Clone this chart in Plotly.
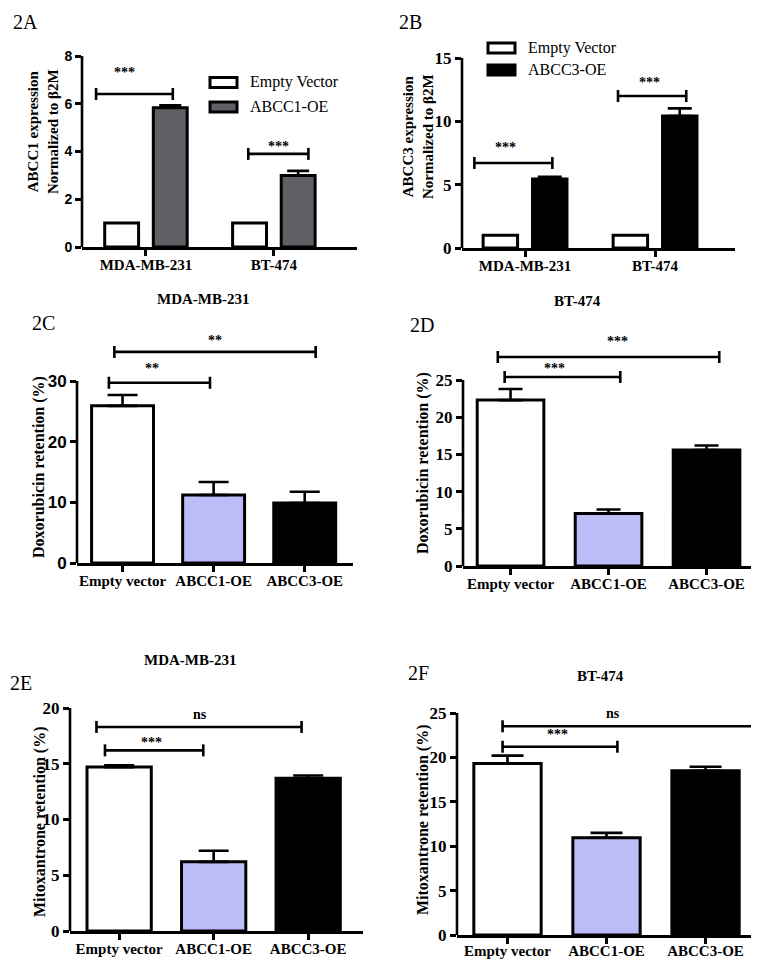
import plotly.graph_objects as go

# The page places the figure 8px from the top-left corner, so the figure is
# sized to the remaining window and all layout pixel positions are offset.
OX, OY = 8, 8
W, H = 759 - OX, 960 - OY
SERIF = "Liberation Serif, Times New Roman, serif"
SANS = "Liberation Sans, Arial, sans-serif"

def px(x):
    return (x - OX) / W

def py(y):
    return 1 - (y - OY) / H

# ---------------- data ----------------
expr_groups = ["MDA-MB-231", "BT-474"]
a_empty = [1.0, 1.0]
a_oe = [5.83, 2.99]
a_oe_err = [0.1, 0.2]
b_empty = [1.0, 1.0]
b_oe = [5.45, 10.42]
b_oe_err = [0.18, 0.6]

ret_groups = ["Empty vector", "ABCC1-OE", "ABCC3-OE"]
c_vals = [25.9, 11.2, 9.9]
c_err = [1.8, 2.15, 1.85]
d_vals = [22.3, 7.05, 15.6]
d_err = [1.5, 0.55, 0.6]
e_vals = [14.7, 6.2, 13.7]
e_err = [0.15, 1.0, 0.25]
f_vals = [19.3, 10.95, 18.5]
f_err = [0.9, 0.55, 0.45]

ret_colors = ["#ffffff", "#bcbcf8", "#000000"]

# significance brackets: (x_start, x_end, y, label, label_x, label_y)
a_sig = [(-0.39, 0.21, 6.41, "***", -0.17, 7.29), (0.8, 1.27, 3.9, "***", 1.04, 4.19)]
b_sig = [(-0.39, 0.21, 6.71, "***", -0.15, 7.9), (0.715, 1.24, 12.0, "***", 0.96, 13.1)]
c_sig = [(-0.15, 0.96, 29.7, "**", 0.32, 32.1), (-0.09, 2.12, 34.8, "**", 1.02, 36.6)]
d_sig = [(-0.06, 1.12, 25.4, "***", 0.45, 26.5), (-0.13, 2.13, 28.1, "***", 1.09, 30.2)]
e_sig = [(-0.15, 0.89, 16.2, "***", 0.34, 16.9), (-0.24, 1.93, 18.3, "ns", 0.86, 19.4)]
f_sig = [(-0.05, 1.11, 21.2, "***", 0.51, 22.6), (-0.05, 2.5, 23.5, "ns", 1.07, 24.9)]

# ---------------- layout of panels (window pixels) ----------------
panels = [
    dict(n=1, xpx=(82, 357), y0=247, yt=56, ymax=8, ext=8, xr=(-0.5, 1.65), dtick=2,
         tf=SANS, tfs=14, sig=a_sig, cap=11, so=-4),
    dict(n=2, xpx=(462, 735), y0=248, yt=58, ymax=15, ext=15, xr=(-0.485, 1.615), dtick=5,
         tf=SERIF, tfs=17, sig=b_sig, cap=12, so=-4),
    dict(n=3, xpx=(77, 353), y0=563, yt=381, ymax=30, ext=40, xr=(-0.5, 2.53), dtick=10,
         tf=SANS, tfs=17, sig=c_sig, cap=15, so=-4),
    dict(n=4, xpx=(463, 757), y0=566, yt=380, ymax=25, ext=31, xr=(-0.485, 2.515), dtick=5,
         tf=SERIF, tfs=17, sig=d_sig, cap=12, so=-4),
    dict(n=5, xpx=(70, 363), y0=931, yt=708, ymax=20, ext=20, xr=(-0.52, 2.58), dtick=5,
         tf=SERIF, tfs=17, sig=e_sig, cap=15, so=-4),
    dict(n=6, xpx=(457, 758), y0=935, yt=713, ymax=25, ext=25, xr=(-0.51, 2.53), dtick=5,
         tf=SERIF, tfs=17, sig=f_sig, cap=16, so=-6),
]

fig = go.Figure()
LW = 2.6
shapes = []
annotations = []

def axname(n, a):
    return a if n == 1 else f"{a}{n}"

def bar_err(err, cap):
    return dict(type="data", array=err, arrayminus=[0] * len(err), symmetric=False,
                color="black", thickness=LW, width=cap)

# grouped expression panels
off, bw = 0.19, 0.265
for p, emp, oe, oe_err, oe_color, oe_name in [
    (panels[0], a_empty, a_oe, a_oe_err, "#5f5f66", "ABCC1-OE"),
    (panels[1], b_empty, b_oe, b_oe_err, "#000000", "ABCC3-OE"),
]:
    xa, ya = axname(p["n"], "x"), axname(p["n"], "y")
    gx = list(range(len(expr_groups)))
    fig.add_trace(go.Bar(x=[g - off for g in gx], y=emp, width=bw, name="Empty Vector",
                         marker=dict(color="white", line=dict(color="black", width=3)),
                         xaxis=xa, yaxis=ya, showlegend=False))
    fig.add_trace(go.Bar(x=[g + off for g in gx], y=oe, width=bw, name=oe_name,
                         marker=dict(color=oe_color, line=dict(color="black", width=3)),
                         error_y=bar_err(oe_err, p["cap"]),
                         xaxis=xa, yaxis=ya, showlegend=False))

# retention panels
for p, vals, err in [(panels[2], c_vals, c_err), (panels[3], d_vals, d_err),
                     (panels[4], e_vals, e_err), (panels[5], f_vals, f_err)]:
    xa, ya = axname(p["n"], "x"), axname(p["n"], "y")
    fig.add_trace(go.Bar(x=list(range(len(ret_groups))), y=vals, width=0.68,
                         marker=dict(color=ret_colors, line=dict(color="black", width=3)),
                         error_y=bar_err(err, p["cap"]),
                         xaxis=xa, yaxis=ya, showlegend=False))

layout_axes = {}
for p in panels:
    n = p["n"]
    ppu = (p["y0"] - p["yt"]) / p["ymax"]
    top_px = p["y0"] - p["ext"] * ppu
    xd = [px(p["xpx"][0]), min(1.0, px(p["xpx"][1]))]
    yd = [py(p["y0"]), py(top_px)]
    cats = expr_groups if n <= 2 else ret_groups
    xkey = "xaxis" if n == 1 else f"xaxis{n}"
    ykey = "yaxis" if n == 1 else f"yaxis{n}"
    layout_axes[xkey] = dict(
        domain=xd, range=list(p["xr"]), anchor=axname(n, "y"), automargin=False,
        showline=True, linecolor="black", linewidth=LW, showgrid=False, zeroline=False,
        ticks="outside", ticklen=6, tickwidth=LW, tickcolor="black",
        tickvals=list(range(len(cats))), ticktext=cats, ticklabelstandoff=p["so"],
        tickfont=dict(family=SERIF, size=15, color="black", weight=700),
        fixedrange=True,
    )
    layout_axes[ykey] = dict(
        domain=yd, range=[0, p["ext"]], anchor=axname(n, "x"), automargin=False,
        showline=False, showgrid=False, zeroline=False,
        ticks="outside", ticklen=6, tickwidth=LW, tickcolor="black",
        tickmode="array",
        tickvals=list(range(0, p["ymax"] + 1, p["dtick"])),
        tickfont=dict(family=p["tf"], size=p["tfs"], color="black", weight=700),
        fixedrange=True,
    )
    # y axis line (only up to the last tick)
    shapes.append(dict(type="line", xref=f"{axname(n,'x')} domain", yref=axname(n, "y"),
                       x0=0, x1=0, y0=0, y1=p["ymax"], line=dict(color="black", width=LW)))
    # significance brackets
    for (x0, x1, yv, lab, lx, ly) in p["sig"]:
        shapes.append(dict(type="line", xref=axname(n, "x"), yref=axname(n, "y"),
                           x0=x0, x1=x1, y0=yv, y1=yv, line=dict(color="black", width=LW)))
        for xe in (x0, x1):
            shapes.append(dict(type="line", xref=axname(n, "x"), yref=axname(n, "y"),
                               ysizemode="pixel", yanchor=yv, y0=-6, y1=6,
                               x0=xe, x1=xe, line=dict(color="black", width=LW)))
        annotations.append(dict(x=lx, y=ly, xref=axname(n, "x"), yref=axname(n, "y"),
                                text=f"<b>{lab}</b>", showarrow=False,
                                font=dict(family=SERIF, size=14, color="black"),
                                xanchor="center", yanchor="middle"))

# panel letters
for txt, x, y in [("2A", 11, 22), ("2B", 397, 22), ("2C", 30, 323),
                  ("2D", 408, 325), ("2E", 8, 683), ("2F", 406, 673)]:
    annotations.append(dict(x=px(x), y=py(y), xref="paper", yref="paper", text=txt,
                            showarrow=False, xanchor="left", yanchor="middle",
                            font=dict(family=SERIF, size=20, color="black")))

# panel titles
for txt, x, y in [("MDA-MB-231", 203, 299), ("BT-474", 577, 301),
                  ("MDA-MB-231", 190, 660), ("BT-474", 600, 676)]:
    annotations.append(dict(x=px(x), y=py(y), xref="paper", yref="paper",
                            text=f"<b>{txt}</b>", showarrow=False,
                            xanchor="center", yanchor="middle",
                            font=dict(family=SERIF, size=15, color="black")))

# y-axis titles
for txt, x, y, fs in [("ABCC1 expression<br>Normalized to β2M", 43, 132, 15),
                      ("ABCC3 expression<br>Normalized to β2M", 418, 137, 15),
                      ("Doxorubicin retention (%)", 39, 467, 16),
                      ("Doxorubicin retention (%)", 423, 463, 16),
                      ("Mitoxantrone retention (%)", 40, 822, 16),
                      ("Mitoxantrone retention (%)", 423, 820, 16)]:
    annotations.append(dict(x=px(x), y=py(y), xref="paper", yref="paper",
                            text=f"<b>{txt}</b>", showarrow=False, textangle=-90,
                            xanchor="center", yanchor="middle",
                            font=dict(family=SERIF, size=fs, color="black")))

# legends (drawn boxes + labels)
for bx0, bx1, yc, fill, label in [
    (210, 237, 82.5, "white", "Empty Vector"), (210, 237, 107, "#5f5f66", "ABCC1-OE"),
    (488, 515, 48, "white", "Empty Vector"), (488, 515, 70, "#000000", "ABCC3-OE"),
]:
    shapes.append(dict(type="rect", xref="paper", yref="paper",
                       x0=px(bx0), x1=px(bx1), y0=py(yc + 5), y1=py(yc - 5),
                       fillcolor=fill, line=dict(color="black", width=3)))
    annotations.append(dict(x=px(bx1 + 11), y=py(yc), xref="paper", yref="paper",
                            text=label, showarrow=False, xanchor="left", yanchor="middle",
                            font=dict(family=SERIF, size=16, color="black")))

fig.update_layout(
    template="none",
    width=W, height=H, margin=dict(l=0, r=0, t=0, b=0, autoexpand=False),
    paper_bgcolor="white", plot_bgcolor="white",
    barmode="overlay", showlegend=False,
    shapes=shapes, annotations=annotations,
    **layout_axes,
)

fig.write_html("out.html")
